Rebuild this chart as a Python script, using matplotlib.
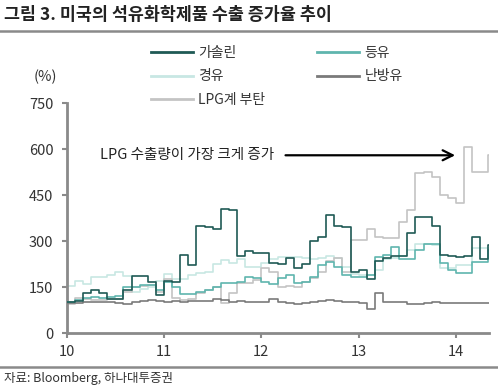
import matplotlib
matplotlib.use("Agg")
import matplotlib.pyplot as plt
import numpy as np

plt.rcParams['font.family'] = ['Noto Sans CJK KR', 'DejaVu Sans']

# Monthly values, Jan 2010 .. May 2014 (x axis: 10 = 2010)
start_year = 10
gasoline = [100, 105, 130, 140, 130, 110, 110, 140, 185, 185, 165, 125,
            170, 165, 255, 222, 350, 345, 340, 405, 400, 250, 268, 260,
            262, 228, 225, 245, 212, 225, 300, 314, 385, 350, 345, 200,
            205, 175, 235, 245, 250, 250, 325, 380, 379, 350, 255, 250,
            249, 250, 314, 240, 287]
kerosene = [100, 108, 115, 116, 115, 118, 120, 150, 150, 157, 157, 140,
            167, 150, 128, 128, 135, 140, 151, 162, 162, 167, 184, 180,
            165, 160, 178, 189, 162, 167, 184, 222, 233, 216, 189, 184,
            184, 189, 249, 254, 282, 243, 243, 270, 292, 292, 227, 205,
            195, 195, 233, 233, 270]
diesel = [152, 170, 160, 182, 183, 190, 200, 185, 135, 145, 150, 170,
          192, 175, 175, 189, 195, 200, 225, 238, 230, 243, 216, 216,
          228, 240, 249, 249, 249, 245, 243, 245, 250, 245, 216, 192,
          188, 190, 205, 240, 245, 250, 270, 290, 292, 288, 212, 212,
          222, 222, 276, 276, 278]
heating_oil = [98, 97, 100, 100, 102, 100, 98, 96, 100, 105, 107, 103,
               100, 103, 100, 104, 105, 106, 110, 108, 102, 106, 100, 102,
               100, 112, 100, 98, 94, 98, 100, 104, 108, 103, 100, 100,
               98, 78, 130, 102, 100, 102, 95, 96, 98, 100, 98, 97,
               97, 97, 97, 97, 97]
lpg = [95, 115, 110, 108, 108, 110, 112, 135, 150, 155, 158, 135,
       175, 115, 108, 110, 129, 140, 151, 97, 129, 162, 162, 173,
       211, 200, 150, 155, 150, 165, 180, 200, 235, 245, 200, 303,
       303, 340, 314, 309, 309, 363, 401, 521, 526, 510, 450, 439,
       423, 608, 526, 526, 580]

labels = ['가솔린', '경유', 'LPG계 부탄', '등유', '난방유']
yticks = [0, 150, 300, 450, 600, 750]
xticks = [10, 11, 12, 13, 14]
annot_text = 'LPG 수출량이 가장 크게 증가'

fig = plt.figure(figsize=(4.98, 3.85), dpi=100)
ax = fig.add_axes([0.134, 0.135, 0.848, 0.597])

n = len(gasoline)
x = start_year + np.arange(n) / 12.0
x_ext = np.append(x, start_year + n / 12.0 + 0.02)

def ext(v):
    return np.append(v, v[-1])

c_gas = '#1f5a55'
c_ker = '#5fb5ae'
c_die = '#c8e7e3'
c_heat = '#7a7a7a'
c_lpg = '#c4c4c4'

lw = 1.2
l_die, = ax.plot(x_ext, ext(diesel), drawstyle='steps-post', color=c_die, lw=lw, zorder=2)
l_heat, = ax.plot(x_ext, ext(heating_oil), drawstyle='steps-post', color=c_heat, lw=lw, zorder=3)
l_lpg, = ax.plot(x_ext, ext(lpg), drawstyle='steps-post', color=c_lpg, lw=lw, zorder=2)
l_ker, = ax.plot(x_ext, ext(kerosene), drawstyle='steps-post', color=c_ker, lw=lw, zorder=3)
l_gas, = ax.plot(x_ext, ext(gasoline), drawstyle='steps-post', color=c_gas, lw=lw, zorder=4)

ax.set_xlim(10, 14.34)
ax.set_ylim(0, 750)
ax.set_yticks(yticks)
ax.set_xticks(xticks)
ax.set_xticklabels([str(t) for t in xticks])
for s in ['top', 'right']:
    ax.spines[s].set_visible(False)
for s in ['left', 'bottom']:
    ax.spines[s].set_color('#8a8a8a')
    ax.spines[s].set_linewidth(2)
ax.tick_params(axis='both', colors='#8a8a8a', width=1.5, length=3.6,
               labelcolor='#333333', labelsize=10.5)
ax.tick_params(axis='x', pad=5)
ax.tick_params(axis='y', pad=6)

# legend
handles = [l_gas, l_die, l_lpg, l_ker, l_heat]
leg = fig.legend(handles, labels, ncol=2, loc='upper left',
                 bbox_to_anchor=(0.289, 0.898), frameon=False,
                 fontsize=10, handlelength=3.0, handletextpad=0.4,
                 labelspacing=0.66, columnspacing=3.75, borderpad=0)
for h in leg.legend_handles:
    h.set_linewidth(2)
for t in leg.get_texts():
    t.set_color('#333333')

fig.text(0.068, 0.80, '(%)', fontsize=10.5, color='#333333', va='center')

# annotation
ax.annotate('', xy=(14.02, 580), xytext=(12.22, 580),
            arrowprops=dict(arrowstyle='->', color='black', lw=1.6,
                            mutation_scale=18))
ax.text(10.34, 580, annot_text, fontsize=10.5, color='#222222', va='center', ha='left')

# title & frame lines
fig.text(0.008, 0.962, '그림 3. 미국의 석유화학제품 수출 증가율 추이', fontsize=12.5,
         fontweight='bold', color='#222222', va='center', ha='left')
fig.add_artist(plt.Line2D([0, 1], [0.92, 0.92], color='#8a8a8a', lw=1.8,
                          transform=fig.transFigure))
fig.add_artist(plt.Line2D([0, 1], [0.047, 0.047], color='#8a8a8a', lw=1.8,
                          transform=fig.transFigure))
fig.text(0.008, 0.018, '자료: Bloomberg, 하나대투증권', fontsize=9,
         color='#333333', va='center', ha='left')

fig.savefig('out.png', dpi=100)
